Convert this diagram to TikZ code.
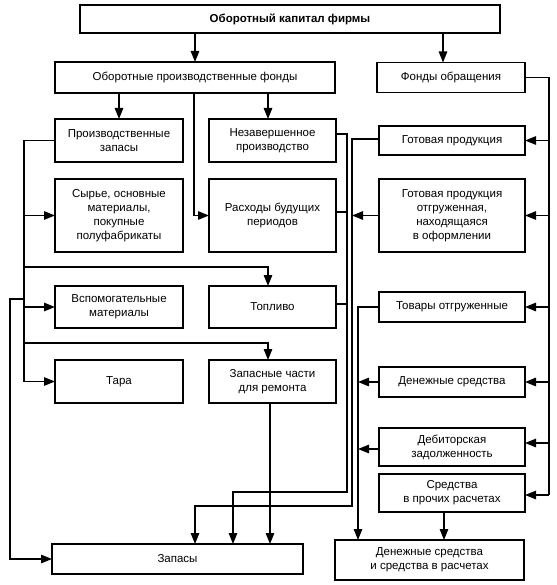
\documentclass[tikz,border=0pt]{standalone}
\usepackage{fontspec}
\setmainfont{Liberation Sans}
\usetikzlibrary{arrows.meta}
\begin{document}
\begin{tikzpicture}[x=1pt,y=-1pt,
  box/.style={draw, line width=1.3pt, inner sep=0pt, outer sep=0pt, align=center,
    font=\fontsize{11.5}{14}\selectfont},
  ln/.style={line width=1.2pt},
  arr/.style={ln, -{Triangle[length=11pt,width=8.5pt]}}]
\useasboundingbox (0,0) rectangle (556,585);
% boxes
\node[box, minimum width=420pt, minimum height=28pt, font=\fontsize{11.5}{14}\selectfont\bfseries] (top) at (290,19) {Оборотный капитал фирмы};
\node[box, minimum width=280pt, minimum height=31pt] (opf) at (195,77.5) {Оборотные производственные фонды};
\node[box, minimum width=148pt, minimum height=30pt] (fo) at (451,77.5) {Фонды обращения};
\node[box, minimum width=128pt, minimum height=43pt] (pz) at (119,140.5) {Производственные\\запасы};
\node[box, minimum width=127pt, minimum height=43pt] (nz) at (272.5,140.5) {Незавершенное\\производство};
\node[box, minimum width=146pt, minimum height=29pt] (gp) at (452,140.5) {Готовая продукция};
\node[box, minimum width=128pt, minimum height=73pt] (syr) at (119,215.5) {Сырье, основные\\материалы,\\покупные\\полуфабрикаты};
\node[box, minimum width=127pt, minimum height=73pt] (rbp) at (272.5,215.5) {Расходы будущих\\периодов};
\node[box, minimum width=146pt, minimum height=73pt] (gpo) at (452,215.5) {Готовая продукция\\отгруженная,\\находящаяся\\в оформлении};
\node[box, minimum width=128pt, minimum height=42pt] (vsp) at (119,307) {Вспомогательные\\материалы};
\node[box, minimum width=127pt, minimum height=42pt] (topl) at (272.5,307) {Топливо};
\node[box, minimum width=146pt, minimum height=30pt] (tov) at (452,307) {Товары отгруженные};
\node[box, minimum width=128pt, minimum height=43pt] (tara) at (119,381.5) {Тара};
\node[box, minimum width=127pt, minimum height=43pt] (zch) at (272.5,381.5) {Запасные части\\для ремонта};
\node[box, minimum width=146pt, minimum height=30pt] (den) at (452,382) {Денежные средства};
\node[box, minimum width=146pt, minimum height=38pt] (deb) at (452,447) {Дебиторская\\задолженность};
\node[box, minimum width=146pt, minimum height=38pt] (spr) at (452,493) {Средства\\в прочих расчетах};
\node[box, minimum width=251pt, minimum height=30pt] (zap) at (177.5,559) {Запасы};
\node[box, minimum width=189pt, minimum height=40pt] (dsr) at (429.5,560) {Денежные средства\\и средства в расчетах};
% helper coordinates
\coordinate (Lx) at (24,0);
\coordinate (Fx) at (10,0);
\coordinate (Rx) at (549,0);
\coordinate (M1) at (347,0);
\coordinate (M2) at (352,0);
\coordinate (M3) at (358,0);
\coordinate (h1) at (24,267);
\coordinate (h2) at (24,343);
\coordinate (b1) at (24,299);
\coordinate (j1) at (347,492);
\coordinate (j2) at (352,506);
\coordinate (debE) at ([yshift=4pt]deb.east);
\coordinate (sprE) at ([yshift=-2pt]spr.east);
\coordinate (debW) at ([yshift=-2pt]deb.west);
% top level
\draw[arr] (opf.north |- top.south) -- (opf.north);
\draw[arr] ([xshift=-8pt]fo.north |- top.south) -- ([xshift=-8pt]fo.north);
\draw[arr] (pz.north |- opf.south) -- (pz.north);
\draw[arr] ([xshift=-4.5pt]nz.north |- opf.south) -- ([xshift=-4.5pt]nz.north);
\draw[arr] ([xshift=-1pt]opf.south) |- (rbp.west);
% left spine
\draw[ln] (pz.west) -| (Lx |- tara.west);
\draw[arr] (Lx |- syr.west) -- (syr.west);
\draw[arr] (Lx |- vsp.west) -- (vsp.west);
\draw[arr] (Lx |- tara.west) -- (tara.west);
\draw[arr] (h1) -| ([xshift=-4.5pt]topl.north);
\draw[arr] (h2) -| ([xshift=-4.5pt]zch.north);
\draw[arr] (b1) -- (Fx |- b1) |- (zap.west);
% middle spines
\draw[arr] ([yshift=6.5pt]nz.east) -| (j1) -| ([xshift=55.5pt]zap.north);
\draw[ln] ([yshift=3.5pt]rbp.east) -- ([yshift=3.5pt]rbp.east -| M1);
\draw[ln] ([yshift=3pt]topl.east) -- ([yshift=3pt]topl.east -| M1);
\draw[arr] ([xshift=-2.5pt]zch.south) -- ([xshift=-2.5pt]zch.south |- zap.north);
\draw[arr] ([yshift=1.5pt]gp.west) -| (j2) -| ([xshift=17.5pt]zap.north);
\draw[arr] (gpo.west) -- (gpo.west -| M2);
\draw[arr] (tov.west) -| (M3 |- dsr.north);
\draw[arr] (den.west) -- (den.west -| M3);
\draw[arr] (debW) -- (debW -| M3);
\draw[arr] ([xshift=-8pt]spr.south) -- ([xshift=-8pt]spr.south |- dsr.north);
% right spine
\draw[ln] (fo.east) -| (Rx |- sprE);
\draw[arr] (Rx |- gp.east) -- (gp.east);
\draw[arr] (Rx |- gpo.east) -- (gpo.east);
\draw[arr] (Rx |- tov.east) -- (tov.east);
\draw[arr] (Rx |- den.east) -- (den.east);
\draw[arr] (Rx |- debE) -- (debE);
\draw[arr] (Rx |- sprE) -- (sprE);
\end{tikzpicture}
\end{document}
